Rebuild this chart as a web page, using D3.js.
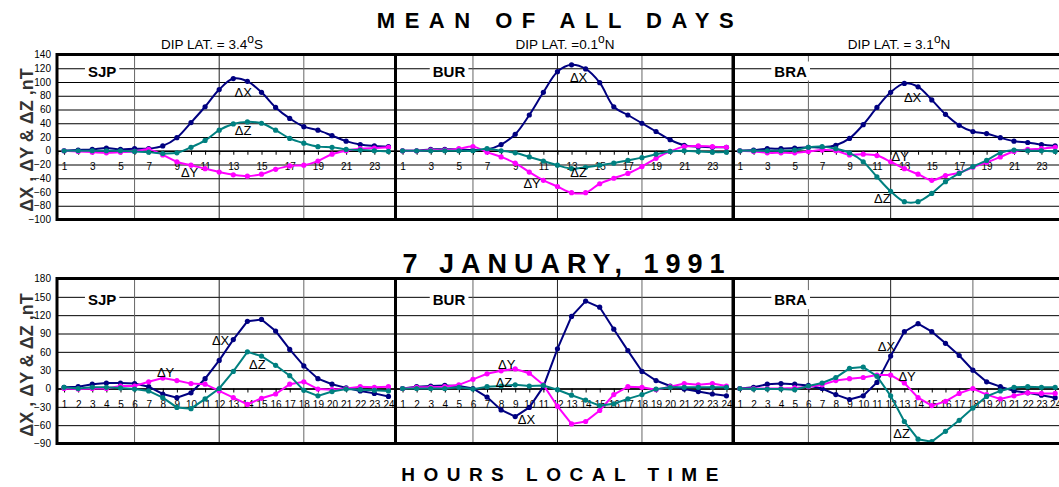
<!DOCTYPE html>
<html>
<head>
<meta charset="utf-8">
<script src="https://cdn.jsdelivr.net/npm/d3@7"></script>
<style>
  body { margin: 0; background: #fff; }
  svg { display: block; font-family: Arial, "Liberation Sans", sans-serif; }
</style>
</head>
<body>
<svg width="1059" height="487"></svg>
<script>
// hours and stations
var hours = d3.range(1, 25);
var stations = ['SJP', 'BUR', 'BRA'];
var dipLat = ['DIP LAT. = 3.4', 'DIP LAT. =0.1', 'DIP LAT. = 3.1'];
var dipHemi = ['S', 'N', 'N'];

// mean of all days (nT)
var meanSJP_X = [0,1,2,4,2,3,3,7,19,41,64,89,105,101,85,63,47,35,30,22,14,9,7,6];
var meanSJP_Y = [0,-1,-2,-3,-2,-1,2,-6,-16,-21,-26,-31,-35,-37,-34,-27,-22,-21,-15,-5,0,3,4,5];
var meanSJP_Z = [0,0,0,0,0,-1,-2,-4,-3,5,15,30,39,42,40,30,18,11,6,5,2,1,0,-1];

var meanBUR_X = [0,0,2,2,2,1,2,9,24,52,85,115,125,119,99,64,52,40,28,16,8,6,5,5];
var meanBUR_Y = [0,0,1,1,3,6,-2,-9,-18,-31,-43,-52,-61,-61,-48,-40,-33,-23,-11,-1,6,7,6,5];
var meanBUR_Z = [0,0,0,0,0,0,3,0,-3,-9,-15,-21,-26,-24,-21,-18,-14,-10,-5,-1,0,-1,-2,-2];

var meanBRA_X = [0,1,3,3,4,5,5,8,18,38,63,85,98,93,74,53,37,28,25,19,14,12,9,7];
var meanBRA_Y = [0,-1,-3,-3,-3,-1,1,0,-6,-5,-7,-16,-26,-34,-43,-36,-32,-24,-17,-9,-1,2,3,5];
var meanBRA_Z = [0,0,0,0,1,5,6,3,-3,-16,-38,-59,-74,-74,-62,-45,-33,-23,-14,-3,1,0,0,-1];

// 7 january 1991 (nT)
var janSJP_X = [2,3,7,9,9,8,3,-9,-15,-7,16,46,80,110,113,94,64,37,16,7,1,-4,-8,-13];
var janSJP_Y = [0,-1,0,0,4,4,11,17,13,8,7,-4,-15,-26,-16,-9,7,11,-1,-2,0,3,2,3];
var janSJP_Z = [2,0,2,2,1,-1,-4,-15,-31,-33,-17,0,28,60,53,38,21,-3,-12,-5,-1,-2,-3,-4];

var janBUR_X = [0,3,4,5,4,0,-14,-35,-46,-31,3,65,118,143,133,97,62,28,13,4,-1,-5,-9,-12];
var janBUR_Y = [0,2,2,3,6,15,24,29,32,25,6,-29,-58,-54,-36,-10,3,2,-2,3,8,6,8,4];
var janBUR_Z = [0,0,0,0,2,-1,3,4,6,4,5,-2,-11,-19,-28,-25,-17,-10,-1,2,2,2,2,2];

var janBRA_X = [0,2,7,8,7,5,0,-10,-18,-12,10,53,93,106,93,74,54,30,11,3,-4,-7,-11,-15];
var janBRA_Y = [0,0,0,0,1,3,6,13,16,18,22,22,9,-15,-28,-21,-8,0,-10,-17,-12,-7,-8,-8];
var janBRA_Z = [0,-1,-1,-1,-2,4,9,18,33,35,20,-12,-54,-83,-87,-70,-52,-32,-13,-4,2,3,2,2];

// where the ΔX / ΔY / ΔZ notes sit, in [hour, nT]
var meanLabels = [
  [[13.7, 85], [9.9, -32], [13.7, 30]],
  [[13.5, 107], [10.2, -48], [13.5, -31]],
  [[13.6, 78], [12.7, -9], [11.4, -69]]
];
var janLabels = [
  [[12.1, 78], [8.2, 26], [14.7, 40]],
  [[9.8, -51], [8.4, 40], [8.2, 10]],
  [[11.7, 69], [13.2, 20], [12.8, -73]]
];

var meanTicks = d3.range(-100, 141, 20);
var janTicks = d3.range(-90, 181, 30);

var comps = ['\u0394X', '\u0394Y', '\u0394Z'];
var colors = ['#000080', '#ff00ff', '#008080'];

var svg = d3.select('svg');

// panel edges on the page
var panelX = [[57, 395.5], [395.5, 733.5], [733, 1062]];
var stationHour = [3.7, 4.3, 4.7];

function drawRow(rowData, labels, yDomain, yRange, yTicks, oddOnly, smooth) {
  var y = d3.scaleLinear().domain(yDomain).range(yRange);
  var g = svg.append('g');

  // horizontal grid + y labels
  var ya = g.append('g')
      .attr('transform', 'translate(57,0)')
      .call(d3.axisLeft(y).tickValues(yTicks).tickSize(-(1062 - 57)).tickPadding(6));
  ya.select('.domain').remove();
  ya.selectAll('line').attr('stroke', '#000').attr('stroke-width', 1);
  ya.selectAll('text').attr('font-size', 10).attr('fill', '#000').attr('font-family', 'Arial, Liberation Sans, sans-serif');

  stations.forEach(function(st, i) {
    var x = d3.scaleLinear().domain([0.5, 24.5]).range(panelX[i]);
    var pg = g.append('g');

    // vertical grid
    pg.selectAll('.vg').data([6, 12, 18]).enter().append('line')
        .attr('x1', function(d) { return x(d); })
        .attr('x2', function(d) { return x(d); })
        .attr('y1', yRange[0])
        .attr('y2', yRange[1])
        .attr('stroke', function(d) { return d == 12 ? '#222' : '#666'; })
        .attr('stroke-width', 1);

    // hour axis on the zero line
    var xa = pg.append('g')
        .attr('transform', 'translate(0,' + y(0) + ')')
        .call(d3.axisBottom(x).tickValues(hours).tickSize(4).tickPadding(8)
          .tickFormat(function(d) { return (oddOnly && d % 2 == 0) ? '' : d; }));
    xa.select('.domain').attr('stroke', '#000').attr('stroke-width', 1.5);
    xa.selectAll('line').attr('stroke', '#000');
    xa.selectAll('text').attr('font-size', 10).attr('fill', '#000').attr('font-family', 'Arial, Liberation Sans, sans-serif');

    // series
    var line = d3.line()
        .x(function(d, k) { return x(hours[k]); })
        .y(function(d) { return y(d); })
        .curve(smooth ? d3.curveCatmullRom : d3.curveLinear);

    rowData[i].forEach(function(vals, c) {
      pg.append('path')
          .attr('d', line(vals))
          .attr('fill', 'none')
          .attr('stroke', colors[c])
          .attr('stroke-width', 2);
      pg.selectAll('.pt' + c).data(vals).enter().append('circle')
          .attr('cx', function(d, k) { return x(hours[k]); })
          .attr('cy', function(d) { return y(d); })
          .attr('r', 2.6)
          .attr('fill', colors[c]);
    });

    // ΔX ΔY ΔZ notes
    labels[i].forEach(function(p, c) {
      pg.append('text')
          .attr('x', x(p[0]))
          .attr('y', y(p[1]))
          .attr('dy', '0.35em')
          .attr('text-anchor', 'middle')
          .attr('font-size', 13)
          .attr('fill', '#000')
          .text(comps[c]);
    });

    // station name in a white box
    var sy = y(yTicks[yTicks.length - 2]) + 3;
    var st_t = pg.append('text')
        .attr('x', x(stationHour[i]))
        .attr('y', sy)
        .attr('dy', '0.35em')
        .attr('text-anchor', 'middle')
        .attr('font-size', 15)
        .attr('font-weight', 'bold')
        .text(st);
    var bb = st_t.node().getBBox();
    pg.insert('rect', function() { return st_t.node(); })
        .attr('x', bb.x - 3)
        .attr('y', bb.y - 1)
        .attr('width', bb.width + 6)
        .attr('height', bb.height + 2)
        .attr('fill', '#fff');

    // panel border
    pg.append('rect')
        .attr('x', panelX[i][0])
        .attr('y', yRange[1])
        .attr('width', panelX[i][1] - panelX[i][0])
        .attr('height', yRange[0] - yRange[1])
        .attr('fill', 'none')
        .attr('stroke', '#000')
        .attr('stroke-width', 3);
  });
  return y;
}

drawRow([[meanSJP_X, meanSJP_Y, meanSJP_Z], [meanBUR_X, meanBUR_Y, meanBUR_Z], [meanBRA_X, meanBRA_Y, meanBRA_Z]],
        meanLabels, [-100, 140], [219.5, 54.5], meanTicks, true, true);
drawRow([[janSJP_X, janSJP_Y, janSJP_Z], [janBUR_X, janBUR_Y, janBUR_Z], [janBRA_X, janBRA_Y, janBRA_Z]],
        janLabels, [-90, 180], [443.5, 278.5], janTicks, false, false);

// dip latitude captions
var capX = [212, 565, 899];
stations.forEach(function(st, i) {
  var t = svg.append('text')
      .attr('x', capX[i])
      .attr('y', 49)
      .attr('text-anchor', 'middle')
      .attr('font-size', 13.5);
  t.append('tspan').text(dipLat[i]);
  t.append('tspan').attr('dy', -6).attr('font-size', 12).text('o');
  t.append('tspan').attr('dy', 6).text(dipHemi[i]);
});

// titles
svg.append('text')
    .attr('x', 560).attr('y', 28)
    .attr('text-anchor', 'middle')
    .attr('font-size', 22).attr('font-weight', 'bold')
    .attr('letter-spacing', 9.5)
    .text('MEAN OF ALL DAYS');

svg.append('text')
    .attr('x', 567).attr('y', 273)
    .attr('text-anchor', 'middle')
    .attr('font-size', 27).attr('font-weight', 'bold')
    .attr('letter-spacing', 7)
    .text('7 JANUARY, 1991');

svg.append('text')
    .attr('x', 564).attr('y', 481)
    .attr('text-anchor', 'middle')
    .attr('font-size', 19).attr('font-weight', 'bold')
    .attr('letter-spacing', 8.5)
    .text('HOURS LOCAL TIME');

// y titles
[140, 365].forEach(function(cy) {
  svg.append('text')
      .attr('transform', 'translate(33,' + cy + ') rotate(-90)')
      .attr('text-anchor', 'middle')
      .attr('font-size', 18).attr('font-weight', 'bold')
      .attr('fill', '#333')
      .text('\u0394X , \u0394Y & \u0394Z ,nT');
});
</script>
</body>
</html>
